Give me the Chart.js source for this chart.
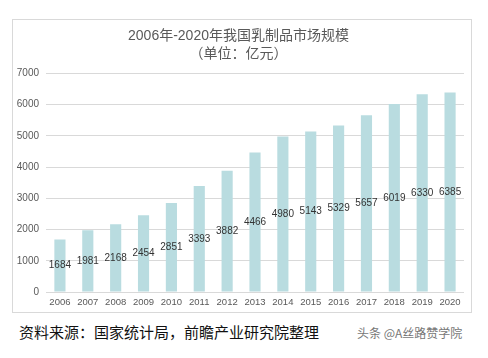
<!DOCTYPE html>
<html><head><meta charset="utf-8">
<script src="https://cdn.jsdelivr.net/npm/chart.js@4"></script>
<style>
html,body{margin:0;padding:0;background:#fff;width:488px;height:358px;overflow:hidden;font-family:"Liberation Sans","Noto Sans CJK SC",sans-serif;}
#box{position:absolute;left:12px;top:19px;width:460px;height:294px;border:1px solid #d9d9d9;box-sizing:border-box;}
#wrap{position:absolute;left:0;top:0;width:458px;height:292px;}
#src{position:absolute;left:19px;top:321px;font-size:15px;color:#111;font-family:"Noto Sans CJK SC",sans-serif;}
#wm{position:absolute;left:357px;top:324px;font-size:12px;color:#777;font-family:"Noto Sans CJK SC",sans-serif;}
</style></head>
<body>
<div id="box"><div id="wrap"><canvas id="c"></canvas></div></div>
<div id="src">资料来源：国家统计局，前瞻产业研究院整理</div>
<div id="wm">头条 @A丝路赞学院</div>
<script>
const categories = ["2006","2007","2008","2009","2010","2011","2012","2013","2014","2015","2016","2017","2018","2019","2020"];
const values = [1684,1981,2168,2454,2851,3393,3882,4466,4980,5143,5329,5657,6019,6330,6385];
const titleLines = ["2006年-2020年我国乳制品市场规模","（单位：亿元）"];
const yTicks = [0,1000,2000,3000,4000,5000,6000,7000];

const labelPlugin = {
  id:'centerLabels',
  afterDatasetsDraw(chart){
    const ctx = chart.ctx;
    const meta = chart.getDatasetMeta(0);
    ctx.save();
    ctx.font = '10px "Liberation Sans", sans-serif';
    ctx.fillStyle = '#333';
    ctx.textAlign = 'center';
    ctx.textBaseline = 'middle';
    meta.data.forEach((bar,i)=>{
      const y = (bar.y + bar.base)/2;
      ctx.fillText(String(values[i]), bar.x, y);
    });
    ctx.restore();
  }
};

new Chart(document.getElementById('c'), {
  type:'bar',
  data:{labels:categories, datasets:[{data:values, backgroundColor:'#b9dce0', barPercentage:0.4, categoryPercentage:1.0}]},
  options:{
    responsive:true, maintainAspectRatio:false, animation:false,
    layout:{padding:{left:0,right:7,top:5,bottom:0}},
    plugins:{
      legend:{display:false}, tooltip:{enabled:false},
      title:{display:true, text:titleLines, color:'#595959', font:{size:14, family:'"Liberation Sans","Noto Sans CJK SC",sans-serif', weight:'normal', lineHeight:1.3}, padding:{top:2,bottom:10}}
    },
    scales:{
      x:{grid:{display:false, drawTicks:false}, border:{display:false}, ticks:{color:'#595959', font:{size:9.5}, maxRotation:0, autoSkip:false, padding:5},
         afterFit(s){s.height = 20;}},
      y:{min:0, max:7000, afterBuildTicks(s){s.ticks = yTicks.map(v=>({value:v}));},
         afterFit(s){s.width = 33;},
         grid:{color:'#d9d9d9', drawTicks:false}, border:{display:false},
         ticks:{color:'#595959', font:{size:10}, padding:7, callback:(v)=>String(v)}}
    }
  },
  plugins:[labelPlugin]
});
</script>
</body></html>
